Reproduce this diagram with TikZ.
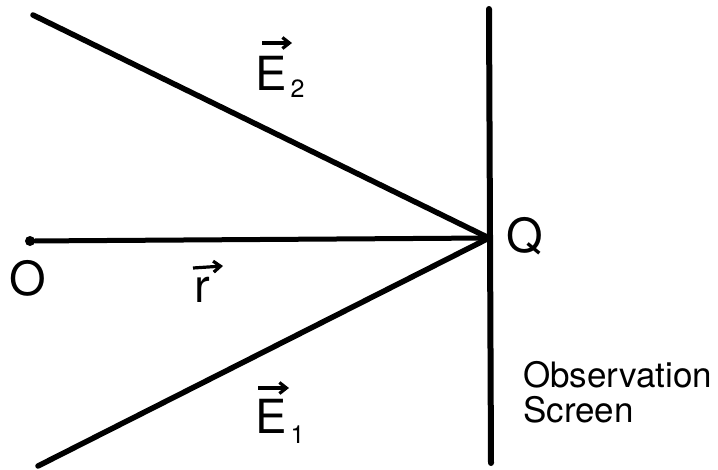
\documentclass[tikz,border=0pt]{standalone}
\usepackage{fontspec}
\setmainfont{TeX Gyre Heros}
\usetikzlibrary{arrows.meta}
\begin{document}
\begin{tikzpicture}[x=1pt,y=-1pt,
  ray/.style={line width=5.5pt,line cap=round},
  lbl/.style={inner sep=0pt,font=\fontsize{47}{47}\selectfont},
  vecarrow/.style={line width=3.2pt,-{Straight Barb[length=7pt,width=11pt,line width=3.2pt]}}]
\useasboundingbox (0,0) rectangle (718,469);
\coordinate (Q) at (489,238);
\coordinate (T) at (33,15);
\coordinate (B) at (38,466);
\coordinate (S1) at (489,9);
\coordinate (S2) at (491,463);
\node[circle,fill,inner sep=0pt,minimum size=10pt] (Odot) at (30,241) {};
\draw[ray] (T) -- (Q);
\draw[ray] (B) -- (Q);
\draw[ray,line width=5pt] (Odot) -- (Q);
\draw[ray,line width=6pt] (S1) -- (S2);
\node[lbl,anchor=base] (O) at (28,295) {O};
\node[lbl,anchor=base west] (Qlbl) at (506,252) {Q};
\node[lbl,anchor=base west] (r) at (194,302) {r};
\node[lbl,anchor=base west] (E2) at (255,90) {E\hspace{4pt}\raisebox{-7pt}{\fontsize{25}{25}\selectfont 2}};
\node[lbl,anchor=base west] (E1) at (255,433) {E\hspace{4pt}\raisebox{-10pt}{\fontsize{25}{25}\selectfont 1}};
\draw[vecarrow] ([shift={(7,-47)}]E2.base west) -- ([shift={(37,-47)}]E2.base west);
\draw[vecarrow] ([shift={(3,-45)}]E1.base west) -- ([shift={(34,-45)}]E1.base west);
\draw[vecarrow] ([shift={(-1,-34)}]r.base west) -- ([shift={(29,-36)}]r.base west);
\node[inner sep=0pt,anchor=north west,align=left,font=\fontsize{35}{35}\selectfont] (scr) at (523,361) {Observation\\Screen};
\end{tikzpicture}
\end{document}
